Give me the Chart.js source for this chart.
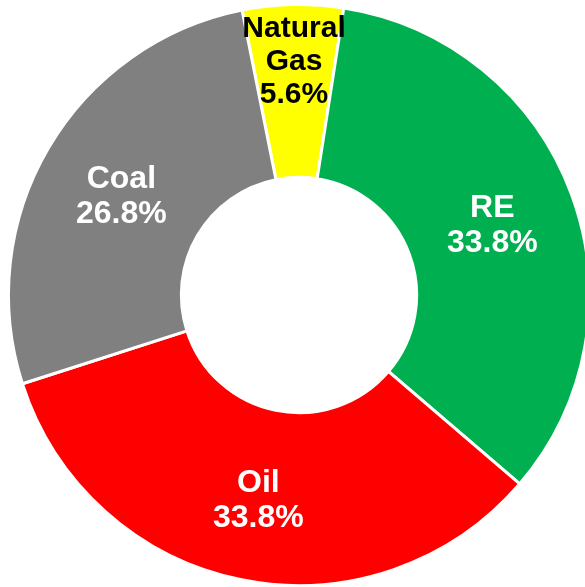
<!DOCTYPE html>
<html>
<head>
<meta charset="utf-8">
<script src="https://cdn.jsdelivr.net/npm/chart.js@4"></script>
<style>
 html,body{margin:0;padding:0;background:#fff;overflow:hidden;}
 #wrap{position:relative;width:598px;height:590px;}
</style>
</head>
<body>
<div id="wrap"><canvas id="c"></canvas></div>
<script>
const labels=["Natural Gas","RE","Oil","Coal"];
const shares=[5.6,33.8,33.8,26.8];
const colors=["#FFFF00","#00B050","#FF0000","#808080"];
const textColors=["#000000","#ffffff","#ffffff","#ffffff"];

// label text inside each slice, drawn at mid radius
const sliceLabels={
 id:"sliceLabels",
 afterDatasetsDraw(chart){
  const ctx=chart.ctx;
  const arcs=chart.getDatasetMeta(0).data;
  const nudge=[0,2,4,6];
  arcs.forEach((arc,i)=>{
   const p=arc.getProps(["x","y","startAngle","endAngle","innerRadius","outerRadius"],true);
   const mid=(p.startAngle+p.endAngle)/2;
   let r=(p.innerRadius+p.outerRadius)/2+2;
   let size=32,lh=35;
   let lines=[labels[i],shares[i].toFixed(1)+"%"];
   if(i===0){
    r=233;size=30;lh=33;
    lines=["Natural","Gas",shares[i].toFixed(1)+"%"];
   }
   const cx=p.x+Math.cos(mid)*r;
   const cy=p.y+Math.sin(mid)*r+nudge[i];
   ctx.save();
   ctx.font="bold "+size+"px 'Liberation Sans', Arial, sans-serif";
   ctx.fillStyle=textColors[i];
   ctx.textAlign="center";
   ctx.textBaseline="middle";
   const top=cy-(lines.length-1)*lh/2;
   lines.forEach((t,k)=>ctx.fillText(t,cx,top+k*lh));
   ctx.restore();
  });
 }
};

new Chart(document.getElementById("c"),{
 type:"doughnut",
 data:{
  labels:labels,
  datasets:[{
   data:shares,
   backgroundColor:colors,
   borderColor:"#ffffff",
   borderWidth:3
  }]
 },
 options:{
  responsive:true,
  maintainAspectRatio:false,
  animation:false,
  rotation:-11.3,
  cutout:"40.5%",
  layout:{padding:3},
  plugins:{legend:{display:false},tooltip:{enabled:false}}
 },
 plugins:[sliceLabels]
});
</script>
</body>
</html>
